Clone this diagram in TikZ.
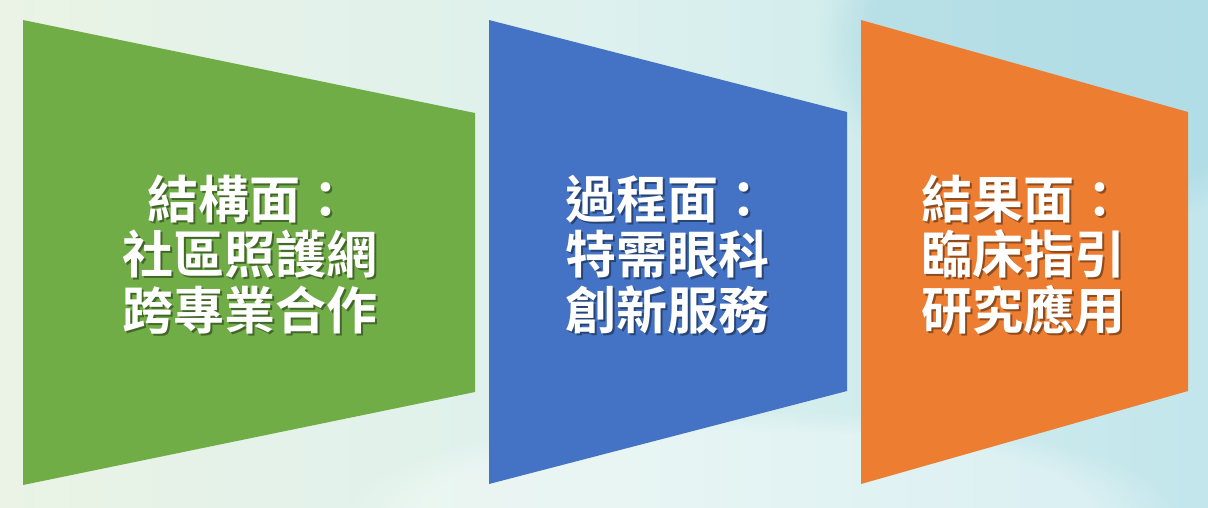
\documentclass[tikz,border=0pt]{standalone}
\usepackage{fontspec}
\usetikzlibrary{fadings}
\newfontfamily\cjk{Noto Sans CJK TC Bold}
\definecolor{bgleft}{HTML}{EAF3E5}
\definecolor{bgmid}{HTML}{DDF1EE}
\definecolor{bgright}{HTML}{C2E6EC}
\definecolor{bgblot}{HTML}{A6D7E2}
\definecolor{trgreen}{HTML}{70AD47}
\definecolor{trblue}{HTML}{4472C4}
\definecolor{trorange}{HTML}{ED7D31}
\tikzset{
  trap/.style={draw=none},
  label text/.style={text=white, font=\cjk\fontsize{51}{55.5}\selectfont, align=center, inner sep=0pt},
  shadow text/.style={text=black, opacity=0.4, font=\cjk\fontsize{51}{55.5}\selectfont, align=center, inner sep=0pt}
}
\begin{document}
\begin{tikzpicture}[x=1pt,y=-1pt]
\useasboundingbox (0,0) rectangle (1208,507);
% background
\shade[left color=bgleft, right color=bgright, middle color=bgmid] (0,0) rectangle (1208,507);
\fill[bgblot, opacity=0.6, path fading=circle with fuzzy edge 20 percent, fit fading=true] (1080,40) ellipse (260 and 190);
\fill[white, opacity=0.35, path fading=circle with fuzzy edge 20 percent, fit fading=true] (760,520) ellipse (420 and 110);
% trapezoids
\fill[trgreen, trap] (23,20) -- (475,113) -- (475,392) -- (23,485) -- cycle;
\fill[trblue, trap] (489,20) -- (847,112) -- (847,391) -- (489,484) -- cycle;
\fill[trorange, trap] (861,20) -- (1188,112) -- (1188,391) -- (861,484) -- cycle;
% texts
\node[shadow text] (s1) at (251.5,256.5) {結構面：\\社區照護網\\跨專業合作};
\node[label text] (t1) at (249.5,254.5) {結構面：\\社區照護網\\跨專業合作};
\node[shadow text] (s2) at (669.5,256.5) {過程面：\\特需眼科\\創新服務};
\node[label text] (t2) at (667.5,254.5) {過程面：\\特需眼科\\創新服務};
\node[shadow text] (s3) at (1025,256.5) {結果面：\\臨床指引\\研究應用};
\node[label text] (t3) at (1023,254.5) {結果面：\\臨床指引\\研究應用};
\end{tikzpicture}
\end{document}
